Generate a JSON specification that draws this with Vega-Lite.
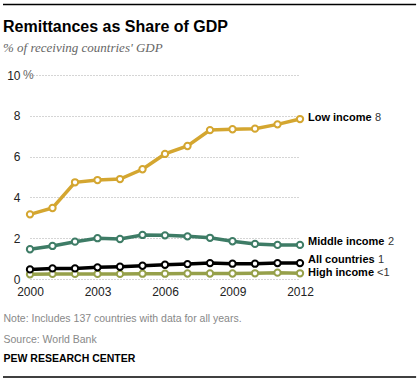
{
  "$schema": "https://vega.github.io/schema/vega-lite/v6.json",
  "width": 270,
  "height": 204,
  "autosize": {"type": "none"},
  "padding": {"left": 30, "top": 75, "right": 119, "bottom": 102},
  "background": "white",
  "config": {"view": {"stroke": null}, "font": "Liberation Sans"},
  "title": {
    "text": "Remittances as Share of GDP",
    "subtitle": "% of receiving countries' GDP",
    "anchor": "start",
    "frame": "group",
    "dx": -27,
    "offset": -51.5,
    "font": "Liberation Sans",
    "fontSize": 16,
    "fontWeight": "bold",
    "color": "#000",
    "subtitleFont": "Liberation Serif",
    "subtitleFontStyle": "italic",
    "subtitleFontSize": 13,
    "subtitleColor": "#666",
    "subtitlePadding": 7
  },
  "datasets": {
    "main": [
      {"year": 2000, "series": "High income", "value": 0.23},
      {"year": 2001, "series": "High income", "value": 0.25},
      {"year": 2002, "series": "High income", "value": 0.25},
      {"year": 2003, "series": "High income", "value": 0.25},
      {"year": 2004, "series": "High income", "value": 0.25},
      {"year": 2005, "series": "High income", "value": 0.26},
      {"year": 2006, "series": "High income", "value": 0.26},
      {"year": 2007, "series": "High income", "value": 0.27},
      {"year": 2008, "series": "High income", "value": 0.27},
      {"year": 2009, "series": "High income", "value": 0.27},
      {"year": 2010, "series": "High income", "value": 0.28},
      {"year": 2011, "series": "High income", "value": 0.31},
      {"year": 2012, "series": "High income", "value": 0.28, "tag": "<1"},
      {"year": 2000, "series": "Middle income", "value": 1.46},
      {"year": 2001, "series": "Middle income", "value": 1.62},
      {"year": 2002, "series": "Middle income", "value": 1.83},
      {"year": 2003, "series": "Middle income", "value": 2.0},
      {"year": 2004, "series": "Middle income", "value": 1.96},
      {"year": 2005, "series": "Middle income", "value": 2.16},
      {"year": 2006, "series": "Middle income", "value": 2.14},
      {"year": 2007, "series": "Middle income", "value": 2.09},
      {"year": 2008, "series": "Middle income", "value": 2.02},
      {"year": 2009, "series": "Middle income", "value": 1.85},
      {"year": 2010, "series": "Middle income", "value": 1.72},
      {"year": 2011, "series": "Middle income", "value": 1.67},
      {"year": 2012, "series": "Middle income", "value": 1.67, "tag": "2"},
      {"year": 2000, "series": "Low income", "value": 3.17},
      {"year": 2001, "series": "Low income", "value": 3.48},
      {"year": 2002, "series": "Low income", "value": 4.74},
      {"year": 2003, "series": "Low income", "value": 4.85},
      {"year": 2004, "series": "Low income", "value": 4.9},
      {"year": 2005, "series": "Low income", "value": 5.38},
      {"year": 2006, "series": "Low income", "value": 6.13},
      {"year": 2007, "series": "Low income", "value": 6.52},
      {"year": 2008, "series": "Low income", "value": 7.3},
      {"year": 2009, "series": "Low income", "value": 7.34},
      {"year": 2010, "series": "Low income", "value": 7.37},
      {"year": 2011, "series": "Low income", "value": 7.58},
      {"year": 2012, "series": "Low income", "value": 7.84, "tag": "8"},
      {"year": 2000, "series": "All countries", "value": 0.47},
      {"year": 2001, "series": "All countries", "value": 0.52},
      {"year": 2002, "series": "All countries", "value": 0.52},
      {"year": 2003, "series": "All countries", "value": 0.57},
      {"year": 2004, "series": "All countries", "value": 0.6},
      {"year": 2005, "series": "All countries", "value": 0.65},
      {"year": 2006, "series": "All countries", "value": 0.7},
      {"year": 2007, "series": "All countries", "value": 0.73},
      {"year": 2008, "series": "All countries", "value": 0.78},
      {"year": 2009, "series": "All countries", "value": 0.75},
      {"year": 2010, "series": "All countries", "value": 0.75},
      {"year": 2011, "series": "All countries", "value": 0.78},
      {"year": 2012, "series": "All countries", "value": 0.78, "tag": "1"}
    ],
    "deco": [
      {"part": "top", "x0": 1998.8, "x1": 2017.16, "y0": 13.45},
      {"part": "bottom", "x0": 1998.8, "x1": 2017.16, "y0": -4.8}
    ]
  },
  "layer": [
    {
      "data": {"name": "main"},
      "mark": {"type": "line", "strokeWidth": 3.5},
      "encoding": {
        "x": {
          "field": "year",
          "type": "quantitative",
          "scale": {"domain": [2000, 2012], "nice": false, "zero": false},
          "axis": {
            "values": [2000, 2003, 2006, 2009, 2012],
            "format": "d",
            "domain": false,
            "ticks": false,
            "grid": false,
            "labelFontSize": 12,
            "labelColor": "#222",
            "labelPadding": 7,
            "labelFlush": false,
            "title": ["Note: Includes 137 countries with data for all years.", "Source: World Bank"],
            "titleFontSize": 10.5,
            "titleFontWeight": "normal",
            "titleColor": "#888",
            "titleAlign": "left",
            "titleX": -27,
            "titleY": 34,
            "titleBaseline": "top",
            "titleLineHeight": 21
          }
        },
        "y": {
          "field": "value",
          "type": "quantitative",
          "scale": {"domain": [0, 10], "nice": false},
          "axis": {
            "values": [0, 2, 4, 6, 8, 10],
            "domain": false,
            "ticks": false,
            "grid": true,
            "gridColor": "#aaa",
            "gridDash": [1, 2],
            "labelFontSize": 12,
            "labelColor": "#222",
            "labelPadding": 10,
            "title": "PEW RESEARCH CENTER",
            "titleAngle": 0,
            "titleX": -27,
            "titleY": 283,
            "titleAlign": "left",
            "titleBaseline": "middle",
            "titleFontSize": 10.5,
            "titleFontWeight": "bold",
            "titleColor": "#000"
          }
        },
        "color": {
          "field": "series",
          "type": "nominal",
          "scale": {
            "domain": ["High income", "Middle income", "Low income", "All countries"],
            "range": ["#96A04A", "#3E7C66", "#D4A630", "#000000"]
          },
          "legend": null
        }
      }
    },
    {
      "data": {"name": "main"},
      "mark": {"type": "point", "filled": false, "fill": "white", "fillOpacity": 1, "opacity": 1, "strokeWidth": 2, "size": 40},
      "encoding": {
        "x": {"field": "year", "type": "quantitative"},
        "y": {"field": "value", "type": "quantitative"},
        "color": {"field": "series", "type": "nominal", "legend": null}
      }
    },
    {
      "data": {"name": "deco"},
      "transform": [{"filter": "datum.part == 'bottom'"}],
      "mark": {"type": "rule", "color": "#000", "strokeWidth": 1.5},
      "encoding": {
        "x": {"field": "x0", "type": "quantitative"},
        "x2": {"field": "x1"},
        "y": {"field": "y0", "type": "quantitative"}
      }
    },
    {
      "data": {"name": "deco"},
      "transform": [{"filter": "datum.part == 'top'"}],
      "mark": {"type": "text", "align": "left", "baseline": "middle", "dx": -7, "fontSize": 12, "color": "#666", "text": "%"},
      "encoding": {"x": {"datum": 2000}, "y": {"datum": 10}}
    },
    {
      "data": {"name": "main"},
      "transform": [{"filter": "datum.year == 2012 && datum.series == 'Low income'"}],
      "mark": {"type": "text", "align": "left", "baseline": "middle", "dx": 8, "dy": -1, "fontSize": 11, "fontWeight": "bold", "color": "#000"},
      "encoding": {"x": {"field": "year", "type": "quantitative"}, "y": {"field": "value", "type": "quantitative"}, "text": {"field": "series"}}
    },
    {
      "data": {"name": "main"},
      "transform": [{"filter": "datum.year == 2012 && datum.series == 'Low income'"}],
      "mark": {"type": "text", "align": "left", "baseline": "middle", "dx": 75, "dy": -1, "fontSize": 11, "color": "#333"},
      "encoding": {"x": {"field": "year", "type": "quantitative"}, "y": {"field": "value", "type": "quantitative"}, "text": {"field": "tag"}}
    },
    {
      "data": {"name": "main"},
      "transform": [{"filter": "datum.year == 2012 && datum.series == 'Middle income'"}],
      "mark": {"type": "text", "align": "left", "baseline": "middle", "dx": 8, "dy": -3, "fontSize": 11, "fontWeight": "bold", "color": "#000"},
      "encoding": {"x": {"field": "year", "type": "quantitative"}, "y": {"field": "value", "type": "quantitative"}, "text": {"field": "series"}}
    },
    {
      "data": {"name": "main"},
      "transform": [{"filter": "datum.year == 2012 && datum.series == 'Middle income'"}],
      "mark": {"type": "text", "align": "left", "baseline": "middle", "dx": 88, "dy": -3, "fontSize": 11, "color": "#333"},
      "encoding": {"x": {"field": "year", "type": "quantitative"}, "y": {"field": "value", "type": "quantitative"}, "text": {"field": "tag"}}
    },
    {
      "data": {"name": "main"},
      "transform": [{"filter": "datum.year == 2012 && datum.series == 'All countries'"}],
      "mark": {"type": "text", "align": "left", "baseline": "middle", "dx": 8, "dy": -3, "fontSize": 11, "fontWeight": "bold", "color": "#000"},
      "encoding": {"x": {"field": "year", "type": "quantitative"}, "y": {"field": "value", "type": "quantitative"}, "text": {"field": "series"}}
    },
    {
      "data": {"name": "main"},
      "transform": [{"filter": "datum.year == 2012 && datum.series == 'All countries'"}],
      "mark": {"type": "text", "align": "left", "baseline": "middle", "dx": 78, "dy": -3, "fontSize": 11, "color": "#333"},
      "encoding": {"x": {"field": "year", "type": "quantitative"}, "y": {"field": "value", "type": "quantitative"}, "text": {"field": "tag"}}
    },
    {
      "data": {"name": "main"},
      "transform": [{"filter": "datum.year == 2012 && datum.series == 'High income'"}],
      "mark": {"type": "text", "align": "left", "baseline": "middle", "dx": 8, "dy": 0, "fontSize": 11, "fontWeight": "bold", "color": "#000"},
      "encoding": {"x": {"field": "year", "type": "quantitative"}, "y": {"field": "value", "type": "quantitative"}, "text": {"field": "series"}}
    },
    {
      "data": {"name": "main"},
      "transform": [{"filter": "datum.year == 2012 && datum.series == 'High income'"}],
      "mark": {"type": "text", "align": "left", "baseline": "middle", "dx": 77, "dy": 0, "fontSize": 11, "color": "#333"},
      "encoding": {"x": {"field": "year", "type": "quantitative"}, "y": {"field": "value", "type": "quantitative"}, "text": {"field": "tag"}}
    },
    {
      "data": {"name": "deco"},
      "transform": [{"filter": "datum.part == 'top'"}],
      "mark": {"type": "rule", "color": "#000", "strokeWidth": 1.5},
      "encoding": {
        "x": {"field": "x0", "type": "quantitative"},
        "x2": {"field": "x1"},
        "y": {"field": "y0", "type": "quantitative"}
      }
    }
  ]
}
